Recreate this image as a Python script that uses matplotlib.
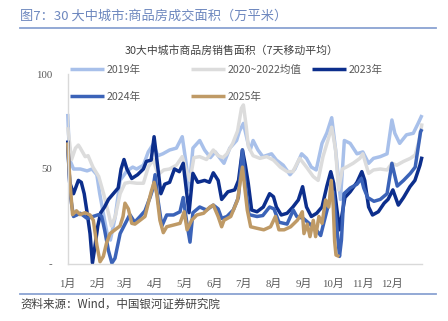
import matplotlib
matplotlib.use('Agg')
import matplotlib.pyplot as plt
from matplotlib.lines import Line2D

plt.rcParams['font.family'] = ['Noto Sans CJK SC', 'DejaVu Sans']

# ---------------- data (day of year, value in 万平米) ----------------
day_2019 = [0, 2, 6, 13, 20, 25, 30, 33, 38, 41, 44, 49, 54, 61, 67, 71, 78, 83, 88, 93,
            98, 105, 112, 118, 122, 125, 129, 136, 141, 147, 152, 157, 161, 167, 174, 177,
            181, 186, 188, 191, 196, 201, 210, 215, 222, 229, 234, 241, 246, 251, 256, 262,
            267, 272, 276, 281, 285, 291, 298, 304, 310, 315, 322, 329, 334, 337, 342, 349,
            356, 361, 365]
val_2019 = [79, 55, 50, 50, 49, 50, 47, 37, 23, 15, 12.6, 25, 44, 49, 51, 50, 52, 59, 63, 57,
            58, 60, 61, 67, 53, 39, 61, 65, 60, 56, 59, 55.6, 53, 61, 65, 70,
            74, 63, 60, 65, 60, 56.5, 58, 54.7, 52, 47, 50, 58, 55.6, 51, 49.5, 63.5,
            69, 77, 60, 34, 65, 63.5, 58, 59, 53, 55.6, 56.5, 58, 75.8, 68.8, 63.5, 68,
            68.8, 74, 78.4]

day_avg = [0, 4, 8, 11, 13, 18, 21, 26, 32, 37, 42, 45, 49, 54, 59, 64, 71, 78, 83, 88,
           93, 99, 105, 112, 118, 122, 126, 130, 136, 143, 150, 155, 160, 164, 170, 175,
           179, 181, 184, 186, 191, 198, 205, 212, 219, 226, 232, 239, 246, 253, 258, 263,
           268, 272, 276, 279, 283, 287, 294, 301, 304, 310, 315, 322, 329, 334, 339, 346,
           353, 358, 362, 365]
val_avg = [72, 55, 61, 62.6, 61, 56.5, 57, 51, 46, 37, 26.7, 20, 25, 37, 42.5, 43, 42.5, 42.5, 51, 55,
           47, 49.5, 50, 52, 56.5, 49.5, 44, 56, 56.5, 55, 60, 57, 56, 58, 63.5, 70,
           82, 83.7, 72, 62, 57, 55.6, 56.5, 54.7, 51, 48.6, 48.6, 55.6, 51, 46, 44, 56.5,
           65, 72, 60, 39, 50, 51, 53, 55.6, 58, 47.7, 49.5, 50, 49.5, 53, 52, 54,
           55.6, 57.4, 65, 74]

day_2023 = [0, 2, 6, 11, 14, 17, 20, 23, 25.5, 28, 31, 34, 38, 42, 47, 52, 55, 58, 61, 66,
            72, 78, 81, 86, 89, 93, 96, 100, 105, 110, 115, 119, 122, 125, 129, 134, 141,
            146, 150, 155, 158.6, 165, 172, 176, 180, 183, 186, 189.5, 195, 201.5, 208,
            212, 215, 220, 226, 232, 237.6, 242, 246, 251, 256.5, 262, 267, 271, 274, 277,
            280, 285.6, 291, 298, 303, 306, 310, 314, 320, 326, 330, 335, 340.6, 346,
            352.6, 357.7, 362.9, 365]
val_2023 = [65, 43, 37, 44, 43, 37, 27, 16, 0.5, 9, 20, 27, 30, 34, 37, 40, 50, 55, 50, 45,
            47, 50, 54, 54.7, 67, 50, 37, 42, 43, 50, 48.6, 53, 40, 27, 47.7, 43, 44,
            43, 48, 44, 34, 38, 39, 44, 60, 52, 42.5, 28.4, 27.5, 30, 37,
            35.4, 30, 25.8, 26.7, 30, 33.7, 40.7, 30, 25, 26.7, 30, 41, 48.6, 42.5, 30,
            18, 35, 38, 43, 48.6, 44, 30, 25.8, 27.5, 32, 34, 39, 31, 35,
            40.7, 44, 52, 56.5]

day_2024 = [0, 3, 6, 13, 20, 26, 32, 35, 38, 42, 45.5, 48.7, 54, 59, 64, 69, 74.5, 79.6, 84.8,
            88, 90, 93, 97, 102, 109, 115.7, 119, 122.6, 126, 129, 136, 143, 150, 155,
            158.6, 164, 170.6, 175.8, 180, 183, 186.7, 195, 201, 208, 212.5, 217.6, 226,
            232.4, 236, 242.7, 249.6, 256, 260.6, 264, 268, 271, 273.6, 277, 280, 282,
            284.6, 291, 298, 302.5, 305, 309, 315.5, 322, 329, 334, 339.5, 346, 353, 358,
            363.5, 365]
val_2024 = [62, 35, 25, 26.7, 24, 25, 26, 25, 18, 7, 0.5, 3, 16, 21, 26, 22, 25, 28, 35,
            40, 47, 33.7, 20, 25.8, 25.8, 27.5, 35, 22, 11.5, 27, 30, 28.4, 31, 29,
            24, 25, 28.4, 35, 60, 42, 26, 25, 25.5, 30, 29, 22, 21,
            28.4, 25, 24, 21, 18, 15, 22, 30, 36, 38, 21, 4, 12.6,
            37, 40, 42, 45, 40, 35, 33, 34, 37, 53, 41, 44, 47.7, 51,
            69.6, 71]

day_2025 = [0, 2.4, 5, 9, 12.7, 17.8, 23, 26.4, 30, 33.3, 36.7, 40, 43.6, 48.7, 53.9, 57, 59,
            62.5, 66, 69.3, 74.5, 79.6, 83, 86, 89, 91.7, 95, 98.5, 102, 109, 115.7, 120,
            123, 127.7, 133, 140, 146.6, 150, 155, 158.6, 161, 168, 175, 180, 185, 188.5,
            195, 202, 209, 214, 217.6, 223, 229.7, 236.5, 239, 241.7, 243.4, 246.8, 249.6,
            253, 255.4, 258.8, 262, 265.7, 269, 271.5, 273.6, 275, 276.4, 280]
val_2025 = [64, 42.5, 26, 28, 26, 27, 25.8, 23, 10, 1.2, 4, 11, 16, 18, 20, 25, 32,
            29, 21.4, 21, 23, 25, 32, 38, 43, 37, 23, 16.5, 19.6, 20.5, 21.4, 27.5,
            18, 23, 25.8, 26.7, 30, 31, 25, 19.6, 23, 25, 33.7, 51, 28.4, 19.6,
            18.8, 18, 19.6, 25, 18, 18, 19.6, 23, 25, 27.5, 16, 21, 14.4,
            23, 14.4, 25, 21.4, 33.7, 30, 44, 30, 12, 4.7, 3.9]

series_labels = ['2019年', '2020~2022均值', '2023年', '2024年', '2025年']
series_colors = ['#a8c0ea', '#dcdcdc', '#0c2e8c', '#3b63b8', '#bf9a66']

month_days = [0, 31, 59, 90, 120, 151, 181, 212, 243, 273, 304, 334]
month_labels = ['1月', '2月', '3月', '4月', '5月', '6月', '7月', '8月', '9月', '10月', '11月', '12月']
ytick_vals = [0, 50, 100]
ytick_labels = ['-', '50', '100']

# ---------------- figure ----------------
W, H = 448, 321
fig = plt.figure(figsize=(W / 100, H / 100), dpi=100)
ax = fig.add_axes([67.7 / W, 1 - 264 / H, (422 - 67.7) / W, (264 - 74) / H])

data = [(day_2019, val_2019), (day_avg, val_avg), (day_2023, val_2023),
        (day_2024, val_2024), (day_2025, val_2025)]
handles = []
for (d, v), lab, col in zip(data, series_labels, series_colors):
    h, = ax.plot(d, v, color=col, lw=2.5, label=lab, solid_joinstyle='round',
                 solid_capstyle='butt', clip_on=False)
    handles.append(h)

ax.set_xlim(0, 365)
ax.set_ylim(0, 100)
ax.set_xticks(month_days)
ax.set_xticklabels(month_labels)
ax.set_yticks(ytick_vals)
ax.set_yticklabels(ytick_labels)
ax.tick_params(axis='both', length=0, colors='#595959', labelsize=7.8)
ax.tick_params(axis='x', pad=11)
ax.tick_params(axis='y', pad=11)
for lbl in ax.get_xticklabels() + ax.get_yticklabels():
    lbl.set_family(['Liberation Serif', 'Noto Sans CJK SC'])
for s in ['top', 'right']:
    ax.spines[s].set_visible(False)
for s in ['left', 'bottom']:
    ax.spines[s].set_color('#d9d9d9')
    ax.spines[s].set_linewidth(1.0)

# legends (three columns, Excel-like fixed positions)
leg_kw = dict(loc='upper left', frameon=False, borderpad=0, borderaxespad=0,
              handlelength=3.2, handletextpad=0.3, labelspacing=1.6,
              prop={'family': ['Noto Sans CJK SC'], 'size': 7.6}, labelcolor='#595959')
fig.legend(handles=[handles[0], handles[3]], labels=[series_labels[0], series_labels[3]],
           bbox_to_anchor=(70 / W, 1 - 64.5 / H), **leg_kw)
fig.legend(handles=[handles[1], handles[4]], labels=[series_labels[1], series_labels[4]],
           bbox_to_anchor=(191 / W, 1 - 64.5 / H), **leg_kw)
fig.legend(handles=[handles[2]], labels=[series_labels[2]],
           bbox_to_anchor=(312 / W, 1 - 64.5 / H), **leg_kw)

# titles and decorations
fig.text(20 / W, 1 - 16 / H, '图7：30 大中城市:商品房成交面积（万平米）',
         fontsize=9.5, color='#6e88bf', ha='left', va='center')
fig.add_artist(Line2D([20 / W, 436 / W], [1 - 28 / H, 1 - 28 / H], color='#8aa2d2', lw=1.3))
fig.text(232 / W, 1 - 51 / H, '30大中城市商品房销售面积（7天移动平均）',
         fontsize=7.8, color='#404040', ha='center', va='center')
fig.add_artist(Line2D([20 / W, 436 / W], [1 - 294 / H, 1 - 294 / H], color='#8aa2d2', lw=1.3))
fig.text(20 / W, 1 - 304 / H, '资料来源：Wind，中国银河证券研究院',
         fontsize=8.3, color='#404040', ha='left', va='center', style='italic')

fig.savefig('out.png', dpi=100)
